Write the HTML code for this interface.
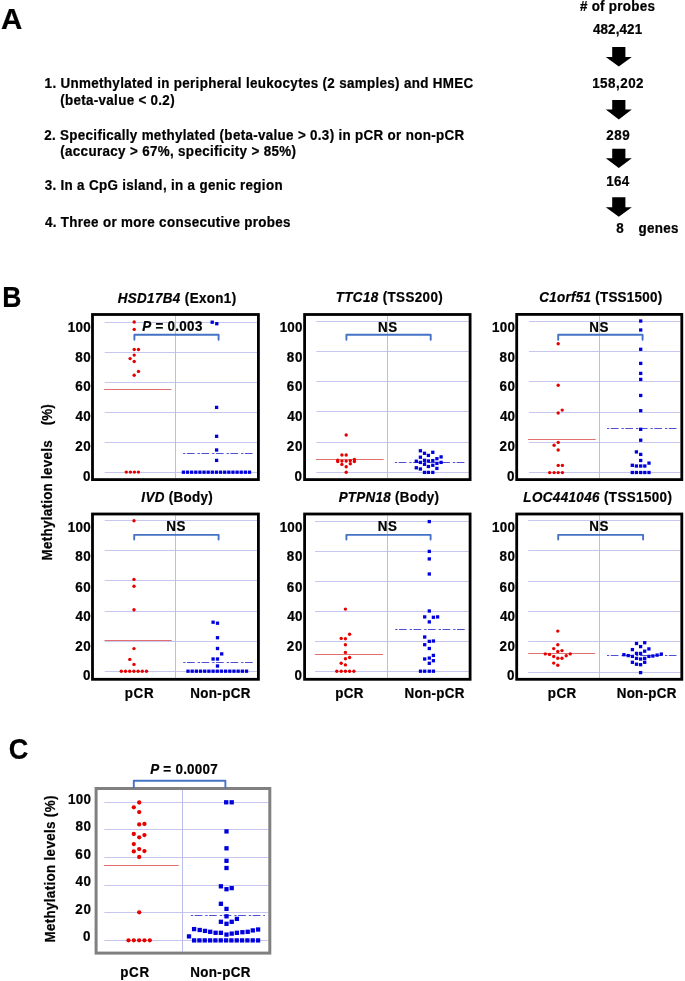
<!DOCTYPE html>
<html><head><meta charset="utf-8"><title>figure</title>
<style>
html,body{margin:0;padding:0;background:#fff;}
svg{display:block;will-change:transform;}
text{font-family:"Liberation Sans",sans-serif;font-weight:bold;fill:#000;stroke:#000;stroke-width:0.22px;}
</style></head><body>
<svg width="685" height="981" viewBox="0 0 685 981">
<polygon points="612.2,47.0 625.4,47.0 625.4,57.0 631.8,57.0 618.8,66.6 605.8,57.0 612.2,57.0" fill="#000"/>
<polygon points="612.2,99.9 625.4,99.9 625.4,109.6 631.8,109.6 618.8,119.5 605.8,109.6 612.2,109.6" fill="#000"/>
<polygon points="612.2,148.7 625.4,148.7 625.4,158.3 631.8,158.3 618.8,168.0 605.8,158.3 612.2,158.3" fill="#000"/>
<polygon points="612.2,197.2 625.4,197.2 625.4,207.2 631.8,207.2 618.8,216.8 605.8,207.2 612.2,207.2" fill="#000"/>
<line x1="104.7" y1="472.50" x2="256.99999999999994" y2="472.50" stroke="#c6c6ee" stroke-width="1.0"/>
<line x1="104.7" y1="442.50" x2="256.99999999999994" y2="442.50" stroke="#c6c6ee" stroke-width="1.0"/>
<line x1="104.7" y1="412.50" x2="256.99999999999994" y2="412.50" stroke="#c6c6ee" stroke-width="1.0"/>
<line x1="104.7" y1="382.50" x2="256.99999999999994" y2="382.50" stroke="#c6c6ee" stroke-width="1.0"/>
<line x1="104.7" y1="352.50" x2="256.99999999999994" y2="352.50" stroke="#c6c6ee" stroke-width="1.0"/>
<line x1="104.7" y1="322.50" x2="256.99999999999994" y2="322.50" stroke="#c6c6ee" stroke-width="1.0"/>
<line x1="175.5" y1="315.90000000000003" x2="175.5" y2="478.2" stroke="#bcbcea" stroke-width="1"/>
<line x1="104.1" y1="389.50" x2="171.5" y2="389.50" stroke="#e27070" stroke-width="1.0"/>
<line x1="183.1" y1="453.50" x2="253.2" y2="453.50" stroke="#5050d4" stroke-width="1.0" stroke-dasharray="2.3,1.5,7.7,3.0"/>
<circle cx="134.2" cy="322.0" r="1.7" fill="#e60000"/>
<circle cx="134.2" cy="329.4" r="1.7" fill="#e60000"/>
<circle cx="134.2" cy="349.5" r="1.7" fill="#e60000"/>
<circle cx="138.5" cy="349.5" r="1.7" fill="#e60000"/>
<circle cx="134.2" cy="355.1" r="1.7" fill="#e60000"/>
<circle cx="130.1" cy="358.6" r="1.7" fill="#e60000"/>
<circle cx="134.2" cy="361.5" r="1.7" fill="#e60000"/>
<circle cx="138.5" cy="371.4" r="1.7" fill="#e60000"/>
<circle cx="134.2" cy="375.3" r="1.7" fill="#e60000"/>
<circle cx="126.3" cy="472.1" r="1.7" fill="#e60000"/>
<circle cx="130.4" cy="472.1" r="1.7" fill="#e60000"/>
<circle cx="134.4" cy="472.1" r="1.7" fill="#e60000"/>
<circle cx="138.4" cy="472.1" r="1.7" fill="#e60000"/>
<rect x="210.55" y="320.55" width="3.3" height="3.3" fill="#0000dc"/>
<rect x="215.15" y="322.05" width="3.3" height="3.3" fill="#0000dc"/>
<rect x="214.95" y="405.75" width="3.3" height="3.3" fill="#0000dc"/>
<rect x="214.95" y="434.65" width="3.3" height="3.3" fill="#0000dc"/>
<rect x="214.95" y="448.35" width="3.3" height="3.3" fill="#0000dc"/>
<rect x="214.95" y="458.75" width="3.3" height="3.3" fill="#0000dc"/>
<rect x="181.75" y="470.55" width="3.3" height="3.3" fill="#0000dc"/>
<rect x="185.88" y="470.55" width="3.3" height="3.3" fill="#0000dc"/>
<rect x="190.01" y="470.55" width="3.3" height="3.3" fill="#0000dc"/>
<rect x="194.14" y="470.55" width="3.3" height="3.3" fill="#0000dc"/>
<rect x="198.27" y="470.55" width="3.3" height="3.3" fill="#0000dc"/>
<rect x="202.40" y="470.55" width="3.3" height="3.3" fill="#0000dc"/>
<rect x="206.53" y="470.55" width="3.3" height="3.3" fill="#0000dc"/>
<rect x="210.66" y="470.55" width="3.3" height="3.3" fill="#0000dc"/>
<rect x="214.79" y="470.55" width="3.3" height="3.3" fill="#0000dc"/>
<rect x="218.92" y="470.55" width="3.3" height="3.3" fill="#0000dc"/>
<rect x="223.05" y="470.55" width="3.3" height="3.3" fill="#0000dc"/>
<rect x="227.18" y="470.55" width="3.3" height="3.3" fill="#0000dc"/>
<rect x="231.31" y="470.55" width="3.3" height="3.3" fill="#0000dc"/>
<rect x="235.44" y="470.55" width="3.3" height="3.3" fill="#0000dc"/>
<rect x="239.57" y="470.55" width="3.3" height="3.3" fill="#0000dc"/>
<rect x="243.70" y="470.55" width="3.3" height="3.3" fill="#0000dc"/>
<rect x="247.83" y="470.55" width="3.3" height="3.3" fill="#0000dc"/>
<rect x="92.50" y="314.50" width="165.90" height="165.10" fill="none" stroke="#000" stroke-width="2.8"/>
<polyline points="134.4,339.8 134.4,334.7 218.6,334.7 218.6,339.8" fill="none" stroke="#4472c4" stroke-width="1.9" stroke-linecap="round" stroke-linejoin="round"/>
<line x1="316.4" y1="472.50" x2="468.7" y2="472.50" stroke="#c6c6ee" stroke-width="1.0"/>
<line x1="316.4" y1="442.50" x2="468.7" y2="442.50" stroke="#c6c6ee" stroke-width="1.0"/>
<line x1="316.4" y1="411.50" x2="468.7" y2="411.50" stroke="#c6c6ee" stroke-width="1.0"/>
<line x1="316.4" y1="381.50" x2="468.7" y2="381.50" stroke="#c6c6ee" stroke-width="1.0"/>
<line x1="316.4" y1="351.50" x2="468.7" y2="351.50" stroke="#c6c6ee" stroke-width="1.0"/>
<line x1="316.4" y1="321.50" x2="468.7" y2="321.50" stroke="#c6c6ee" stroke-width="1.0"/>
<line x1="387.5" y1="315.90000000000003" x2="387.5" y2="478.2" stroke="#bcbcea" stroke-width="1"/>
<line x1="316.1" y1="459.50" x2="383.6" y2="459.50" stroke="#e27070" stroke-width="1.0"/>
<line x1="394.9" y1="462.50" x2="465.4" y2="462.50" stroke="#5050d4" stroke-width="1.0" stroke-dasharray="2.3,1.5,7.7,3.0"/>
<circle cx="346.2" cy="435.0" r="1.7" fill="#e60000"/>
<circle cx="341.9" cy="455.0" r="1.7" fill="#e60000"/>
<circle cx="346.2" cy="455.0" r="1.7" fill="#e60000"/>
<circle cx="337.7" cy="460.1" r="1.7" fill="#e60000"/>
<circle cx="337.7" cy="461.5" r="1.7" fill="#e60000"/>
<circle cx="341.9" cy="461.1" r="1.7" fill="#e60000"/>
<circle cx="346.2" cy="461.1" r="1.7" fill="#e60000"/>
<circle cx="350.3" cy="460.6" r="1.7" fill="#e60000"/>
<circle cx="354.4" cy="459.5" r="1.7" fill="#e60000"/>
<circle cx="354.4" cy="461.5" r="1.7" fill="#e60000"/>
<circle cx="341.9" cy="464.4" r="1.7" fill="#e60000"/>
<circle cx="350.3" cy="463.8" r="1.7" fill="#e60000"/>
<circle cx="346.2" cy="466.7" r="1.7" fill="#e60000"/>
<circle cx="346.2" cy="472.2" r="1.7" fill="#e60000"/>
<rect x="418.75" y="449.15" width="3.3" height="3.3" fill="#0000dc"/>
<rect x="422.85" y="451.65" width="3.3" height="3.3" fill="#0000dc"/>
<rect x="426.75" y="453.75" width="3.3" height="3.3" fill="#0000dc"/>
<rect x="431.15" y="450.65" width="3.3" height="3.3" fill="#0000dc"/>
<rect x="418.75" y="455.55" width="3.3" height="3.3" fill="#0000dc"/>
<rect x="439.45" y="455.25" width="3.3" height="3.3" fill="#0000dc"/>
<rect x="435.25" y="457.05" width="3.3" height="3.3" fill="#0000dc"/>
<rect x="414.65" y="459.55" width="3.3" height="3.3" fill="#0000dc"/>
<rect x="418.75" y="460.75" width="3.3" height="3.3" fill="#0000dc"/>
<rect x="422.85" y="458.65" width="3.3" height="3.3" fill="#0000dc"/>
<rect x="426.75" y="459.35" width="3.3" height="3.3" fill="#0000dc"/>
<rect x="431.15" y="458.95" width="3.3" height="3.3" fill="#0000dc"/>
<rect x="435.25" y="461.75" width="3.3" height="3.3" fill="#0000dc"/>
<rect x="439.45" y="460.75" width="3.3" height="3.3" fill="#0000dc"/>
<rect x="422.85" y="462.65" width="3.3" height="3.3" fill="#0000dc"/>
<rect x="426.75" y="464.85" width="3.3" height="3.3" fill="#0000dc"/>
<rect x="431.15" y="463.65" width="3.3" height="3.3" fill="#0000dc"/>
<rect x="414.65" y="466.15" width="3.3" height="3.3" fill="#0000dc"/>
<rect x="418.75" y="467.35" width="3.3" height="3.3" fill="#0000dc"/>
<rect x="435.25" y="466.75" width="3.3" height="3.3" fill="#0000dc"/>
<rect x="422.85" y="470.75" width="3.3" height="3.3" fill="#0000dc"/>
<rect x="426.75" y="470.75" width="3.3" height="3.3" fill="#0000dc"/>
<rect x="431.15" y="470.75" width="3.3" height="3.3" fill="#0000dc"/>
<rect x="304.60" y="314.50" width="165.50" height="165.10" fill="none" stroke="#000" stroke-width="2.8"/>
<polyline points="346.4,339.8 346.4,334.7 430.7,334.7 430.7,339.8" fill="none" stroke="#4472c4" stroke-width="1.9" stroke-linecap="round" stroke-linejoin="round"/>
<line x1="528.9" y1="472.50" x2="680.4" y2="472.50" stroke="#c6c6ee" stroke-width="1.0"/>
<line x1="528.9" y1="442.50" x2="680.4" y2="442.50" stroke="#c6c6ee" stroke-width="1.0"/>
<line x1="528.9" y1="412.50" x2="680.4" y2="412.50" stroke="#c6c6ee" stroke-width="1.0"/>
<line x1="528.9" y1="381.50" x2="680.4" y2="381.50" stroke="#c6c6ee" stroke-width="1.0"/>
<line x1="528.9" y1="351.50" x2="680.4" y2="351.50" stroke="#c6c6ee" stroke-width="1.0"/>
<line x1="528.9" y1="321.50" x2="680.4" y2="321.50" stroke="#c6c6ee" stroke-width="1.0"/>
<line x1="599.5" y1="315.8" x2="599.5" y2="478.2" stroke="#bcbcea" stroke-width="1"/>
<line x1="528.0" y1="439.50" x2="595.7" y2="439.50" stroke="#e27070" stroke-width="1.0"/>
<line x1="607.0" y1="428.50" x2="677.3" y2="428.50" stroke="#5050d4" stroke-width="1.0" stroke-dasharray="2.3,1.5,7.7,3.0"/>
<circle cx="558.2" cy="343.8" r="1.7" fill="#e60000"/>
<circle cx="558.2" cy="385.3" r="1.7" fill="#e60000"/>
<circle cx="562.2" cy="410.1" r="1.7" fill="#e60000"/>
<circle cx="558.2" cy="413.0" r="1.7" fill="#e60000"/>
<circle cx="558.2" cy="442.4" r="1.7" fill="#e60000"/>
<circle cx="554.1" cy="445.3" r="1.7" fill="#e60000"/>
<circle cx="558.2" cy="450.0" r="1.7" fill="#e60000"/>
<circle cx="558.2" cy="465.4" r="1.7" fill="#e60000"/>
<circle cx="562.4" cy="465.4" r="1.7" fill="#e60000"/>
<circle cx="549.7" cy="472.6" r="1.7" fill="#e60000"/>
<circle cx="554.1" cy="472.6" r="1.7" fill="#e60000"/>
<circle cx="558.2" cy="472.6" r="1.7" fill="#e60000"/>
<circle cx="562.4" cy="472.6" r="1.7" fill="#e60000"/>
<rect x="639.05" y="319.35" width="3.3" height="3.3" fill="#0000dc"/>
<rect x="639.05" y="328.35" width="3.3" height="3.3" fill="#0000dc"/>
<rect x="639.05" y="347.65" width="3.3" height="3.3" fill="#0000dc"/>
<rect x="639.05" y="361.75" width="3.3" height="3.3" fill="#0000dc"/>
<rect x="639.05" y="371.75" width="3.3" height="3.3" fill="#0000dc"/>
<rect x="639.05" y="377.75" width="3.3" height="3.3" fill="#0000dc"/>
<rect x="639.05" y="393.85" width="3.3" height="3.3" fill="#0000dc"/>
<rect x="639.05" y="409.05" width="3.3" height="3.3" fill="#0000dc"/>
<rect x="639.05" y="427.65" width="3.3" height="3.3" fill="#0000dc"/>
<rect x="639.05" y="438.55" width="3.3" height="3.3" fill="#0000dc"/>
<rect x="634.75" y="450.25" width="3.3" height="3.3" fill="#0000dc"/>
<rect x="639.05" y="452.75" width="3.3" height="3.3" fill="#0000dc"/>
<rect x="639.05" y="458.85" width="3.3" height="3.3" fill="#0000dc"/>
<rect x="630.65" y="463.65" width="3.3" height="3.3" fill="#0000dc"/>
<rect x="634.75" y="464.35" width="3.3" height="3.3" fill="#0000dc"/>
<rect x="639.05" y="464.35" width="3.3" height="3.3" fill="#0000dc"/>
<rect x="643.15" y="464.35" width="3.3" height="3.3" fill="#0000dc"/>
<rect x="647.35" y="461.45" width="3.3" height="3.3" fill="#0000dc"/>
<rect x="630.65" y="470.85" width="3.3" height="3.3" fill="#0000dc"/>
<rect x="634.75" y="470.85" width="3.3" height="3.3" fill="#0000dc"/>
<rect x="639.05" y="470.85" width="3.3" height="3.3" fill="#0000dc"/>
<rect x="643.15" y="470.85" width="3.3" height="3.3" fill="#0000dc"/>
<rect x="647.35" y="470.85" width="3.3" height="3.3" fill="#0000dc"/>
<rect x="516.70" y="314.40" width="165.10" height="165.20" fill="none" stroke="#000" stroke-width="2.8"/>
<polyline points="558.2,339.8 558.2,334.7 642.6,334.7 642.6,339.8" fill="none" stroke="#4472c4" stroke-width="1.9" stroke-linecap="round" stroke-linejoin="round"/>
<line x1="104.7" y1="671.50" x2="256.99999999999994" y2="671.50" stroke="#c6c6ee" stroke-width="1.0"/>
<line x1="104.7" y1="641.50" x2="256.99999999999994" y2="641.50" stroke="#c6c6ee" stroke-width="1.0"/>
<line x1="104.7" y1="611.50" x2="256.99999999999994" y2="611.50" stroke="#c6c6ee" stroke-width="1.0"/>
<line x1="104.7" y1="580.50" x2="256.99999999999994" y2="580.50" stroke="#c6c6ee" stroke-width="1.0"/>
<line x1="104.7" y1="550.50" x2="256.99999999999994" y2="550.50" stroke="#c6c6ee" stroke-width="1.0"/>
<line x1="104.7" y1="520.50" x2="256.99999999999994" y2="520.50" stroke="#c6c6ee" stroke-width="1.0"/>
<line x1="175.5" y1="515.4" x2="175.5" y2="677.9000000000001" stroke="#bcbcea" stroke-width="1"/>
<line x1="104.5" y1="640.50" x2="171.7" y2="640.50" stroke="#e27070" stroke-width="1.0"/>
<line x1="183.2" y1="662.50" x2="254.5" y2="662.50" stroke="#5050d4" stroke-width="1.0" stroke-dasharray="2.3,1.5,7.7,3.0"/>
<circle cx="134.0" cy="520.8" r="1.7" fill="#e60000"/>
<circle cx="134.0" cy="579.4" r="1.7" fill="#e60000"/>
<circle cx="134.0" cy="586.2" r="1.7" fill="#e60000"/>
<circle cx="134.0" cy="609.7" r="1.7" fill="#e60000"/>
<circle cx="134.0" cy="648.6" r="1.7" fill="#e60000"/>
<circle cx="129.8" cy="659.4" r="1.7" fill="#e60000"/>
<circle cx="134.0" cy="664.4" r="1.7" fill="#e60000"/>
<circle cx="121.3" cy="671.2" r="1.7" fill="#e60000"/>
<circle cx="125.5" cy="671.2" r="1.7" fill="#e60000"/>
<circle cx="129.7" cy="671.2" r="1.7" fill="#e60000"/>
<circle cx="133.9" cy="671.2" r="1.7" fill="#e60000"/>
<circle cx="138.1" cy="671.2" r="1.7" fill="#e60000"/>
<circle cx="142.3" cy="671.2" r="1.7" fill="#e60000"/>
<circle cx="146.5" cy="671.2" r="1.7" fill="#e60000"/>
<rect x="211.45" y="620.55" width="3.3" height="3.3" fill="#0000dc"/>
<rect x="215.85" y="621.55" width="3.3" height="3.3" fill="#0000dc"/>
<rect x="215.85" y="636.05" width="3.3" height="3.3" fill="#0000dc"/>
<rect x="215.85" y="646.85" width="3.3" height="3.3" fill="#0000dc"/>
<rect x="220.05" y="652.25" width="3.3" height="3.3" fill="#0000dc"/>
<rect x="211.45" y="657.35" width="3.3" height="3.3" fill="#0000dc"/>
<rect x="215.85" y="657.35" width="3.3" height="3.3" fill="#0000dc"/>
<rect x="215.85" y="664.35" width="3.3" height="3.3" fill="#0000dc"/>
<rect x="186.35" y="669.55" width="3.3" height="3.3" fill="#0000dc"/>
<rect x="190.53" y="669.55" width="3.3" height="3.3" fill="#0000dc"/>
<rect x="194.71" y="669.55" width="3.3" height="3.3" fill="#0000dc"/>
<rect x="198.89" y="669.55" width="3.3" height="3.3" fill="#0000dc"/>
<rect x="203.07" y="669.55" width="3.3" height="3.3" fill="#0000dc"/>
<rect x="207.25" y="669.55" width="3.3" height="3.3" fill="#0000dc"/>
<rect x="211.43" y="669.55" width="3.3" height="3.3" fill="#0000dc"/>
<rect x="215.61" y="669.55" width="3.3" height="3.3" fill="#0000dc"/>
<rect x="219.79" y="669.55" width="3.3" height="3.3" fill="#0000dc"/>
<rect x="223.97" y="669.55" width="3.3" height="3.3" fill="#0000dc"/>
<rect x="228.15" y="669.55" width="3.3" height="3.3" fill="#0000dc"/>
<rect x="232.33" y="669.55" width="3.3" height="3.3" fill="#0000dc"/>
<rect x="236.51" y="669.55" width="3.3" height="3.3" fill="#0000dc"/>
<rect x="240.69" y="669.55" width="3.3" height="3.3" fill="#0000dc"/>
<rect x="244.87" y="669.55" width="3.3" height="3.3" fill="#0000dc"/>
<rect x="92.50" y="514.00" width="165.90" height="165.30" fill="none" stroke="#000" stroke-width="2.8"/>
<polyline points="134.2,539.6 134.2,534.85 218.6,534.85 218.6,539.6" fill="none" stroke="#4472c4" stroke-width="1.9" stroke-linecap="round" stroke-linejoin="round"/>
<line x1="315.1" y1="671.50" x2="468.7" y2="671.50" stroke="#c6c6ee" stroke-width="1.0"/>
<line x1="315.1" y1="641.50" x2="468.7" y2="641.50" stroke="#c6c6ee" stroke-width="1.0"/>
<line x1="315.1" y1="611.50" x2="468.7" y2="611.50" stroke="#c6c6ee" stroke-width="1.0"/>
<line x1="315.1" y1="581.50" x2="468.7" y2="581.50" stroke="#c6c6ee" stroke-width="1.0"/>
<line x1="315.1" y1="551.50" x2="468.7" y2="551.50" stroke="#c6c6ee" stroke-width="1.0"/>
<line x1="315.1" y1="521.50" x2="468.7" y2="521.50" stroke="#c6c6ee" stroke-width="1.0"/>
<line x1="387.5" y1="515.4" x2="387.5" y2="677.9000000000001" stroke="#bcbcea" stroke-width="1"/>
<line x1="314.9" y1="654.50" x2="383.1" y2="654.50" stroke="#e27070" stroke-width="1.0"/>
<line x1="395.2" y1="629.50" x2="466.1" y2="629.50" stroke="#5050d4" stroke-width="1.0" stroke-dasharray="2.3,1.5,7.7,3.0"/>
<circle cx="345.4" cy="609.1" r="1.7" fill="#e60000"/>
<circle cx="349.6" cy="634.2" r="1.7" fill="#e60000"/>
<circle cx="341.2" cy="638.4" r="1.7" fill="#e60000"/>
<circle cx="345.4" cy="638.8" r="1.7" fill="#e60000"/>
<circle cx="345.4" cy="644.7" r="1.7" fill="#e60000"/>
<circle cx="345.4" cy="652.4" r="1.7" fill="#e60000"/>
<circle cx="345.4" cy="658.7" r="1.7" fill="#e60000"/>
<circle cx="349.6" cy="657.5" r="1.7" fill="#e60000"/>
<circle cx="341.2" cy="663.3" r="1.7" fill="#e60000"/>
<circle cx="345.4" cy="664.9" r="1.7" fill="#e60000"/>
<circle cx="336.8" cy="671.2" r="1.7" fill="#e60000"/>
<circle cx="341.2" cy="671.2" r="1.7" fill="#e60000"/>
<circle cx="345.4" cy="671.2" r="1.7" fill="#e60000"/>
<circle cx="349.6" cy="671.2" r="1.7" fill="#e60000"/>
<circle cx="353.9" cy="671.2" r="1.7" fill="#e60000"/>
<rect x="427.65" y="519.95" width="3.3" height="3.3" fill="#0000dc"/>
<rect x="427.65" y="549.75" width="3.3" height="3.3" fill="#0000dc"/>
<rect x="427.65" y="557.25" width="3.3" height="3.3" fill="#0000dc"/>
<rect x="427.65" y="572.35" width="3.3" height="3.3" fill="#0000dc"/>
<rect x="427.65" y="609.35" width="3.3" height="3.3" fill="#0000dc"/>
<rect x="423.05" y="615.25" width="3.3" height="3.3" fill="#0000dc"/>
<rect x="431.75" y="615.65" width="3.3" height="3.3" fill="#0000dc"/>
<rect x="435.95" y="615.25" width="3.3" height="3.3" fill="#0000dc"/>
<rect x="427.65" y="620.25" width="3.3" height="3.3" fill="#0000dc"/>
<rect x="423.05" y="635.35" width="3.3" height="3.3" fill="#0000dc"/>
<rect x="427.65" y="639.75" width="3.3" height="3.3" fill="#0000dc"/>
<rect x="431.75" y="639.35" width="3.3" height="3.3" fill="#0000dc"/>
<rect x="423.05" y="643.05" width="3.3" height="3.3" fill="#0000dc"/>
<rect x="427.65" y="646.85" width="3.3" height="3.3" fill="#0000dc"/>
<rect x="431.75" y="653.75" width="3.3" height="3.3" fill="#0000dc"/>
<rect x="423.05" y="657.35" width="3.3" height="3.3" fill="#0000dc"/>
<rect x="427.65" y="656.45" width="3.3" height="3.3" fill="#0000dc"/>
<rect x="431.75" y="659.05" width="3.3" height="3.3" fill="#0000dc"/>
<rect x="427.65" y="661.65" width="3.3" height="3.3" fill="#0000dc"/>
<rect x="418.85" y="669.55" width="3.3" height="3.3" fill="#0000dc"/>
<rect x="423.05" y="669.55" width="3.3" height="3.3" fill="#0000dc"/>
<rect x="427.65" y="669.55" width="3.3" height="3.3" fill="#0000dc"/>
<rect x="431.75" y="669.55" width="3.3" height="3.3" fill="#0000dc"/>
<rect x="304.60" y="514.00" width="165.50" height="165.30" fill="none" stroke="#000" stroke-width="2.8"/>
<polyline points="346.4,539.6 346.4,534.85 430.6,534.85 430.6,539.6" fill="none" stroke="#4472c4" stroke-width="1.9" stroke-linecap="round" stroke-linejoin="round"/>
<line x1="528.2" y1="672.50" x2="680.4" y2="672.50" stroke="#c6c6ee" stroke-width="1.0"/>
<line x1="528.2" y1="641.50" x2="680.4" y2="641.50" stroke="#c6c6ee" stroke-width="1.0"/>
<line x1="528.2" y1="611.50" x2="680.4" y2="611.50" stroke="#c6c6ee" stroke-width="1.0"/>
<line x1="528.2" y1="581.50" x2="680.4" y2="581.50" stroke="#c6c6ee" stroke-width="1.0"/>
<line x1="528.2" y1="550.50" x2="680.4" y2="550.50" stroke="#c6c6ee" stroke-width="1.0"/>
<line x1="528.2" y1="520.50" x2="680.4" y2="520.50" stroke="#c6c6ee" stroke-width="1.0"/>
<line x1="599.5" y1="515.4" x2="599.5" y2="677.9000000000001" stroke="#bcbcea" stroke-width="1"/>
<line x1="528.2" y1="653.50" x2="595.2" y2="653.50" stroke="#e27070" stroke-width="1.0"/>
<line x1="607.0" y1="655.50" x2="677.2" y2="655.50" stroke="#5050d4" stroke-width="1.0" stroke-dasharray="2.3,1.5,7.7,3.0"/>
<circle cx="557.8" cy="631.1" r="1.7" fill="#e60000"/>
<circle cx="557.8" cy="644.7" r="1.7" fill="#e60000"/>
<circle cx="553.7" cy="648.6" r="1.7" fill="#e60000"/>
<circle cx="562.0" cy="650.6" r="1.7" fill="#e60000"/>
<circle cx="557.8" cy="651.5" r="1.7" fill="#e60000"/>
<circle cx="545.3" cy="653.9" r="1.7" fill="#e60000"/>
<circle cx="549.5" cy="654.4" r="1.7" fill="#e60000"/>
<circle cx="570.2" cy="653.9" r="1.7" fill="#e60000"/>
<circle cx="553.7" cy="656.5" r="1.7" fill="#e60000"/>
<circle cx="557.8" cy="658.3" r="1.7" fill="#e60000"/>
<circle cx="562.0" cy="658.3" r="1.7" fill="#e60000"/>
<circle cx="566.2" cy="655.8" r="1.7" fill="#e60000"/>
<circle cx="553.7" cy="663.1" r="1.7" fill="#e60000"/>
<circle cx="557.8" cy="665.3" r="1.7" fill="#e60000"/>
<rect x="634.85" y="641.85" width="3.3" height="3.3" fill="#0000dc"/>
<rect x="643.05" y="641.05" width="3.3" height="3.3" fill="#0000dc"/>
<rect x="638.95" y="644.95" width="3.3" height="3.3" fill="#0000dc"/>
<rect x="630.75" y="647.95" width="3.3" height="3.3" fill="#0000dc"/>
<rect x="647.25" y="647.25" width="3.3" height="3.3" fill="#0000dc"/>
<rect x="643.05" y="649.55" width="3.3" height="3.3" fill="#0000dc"/>
<rect x="634.85" y="651.75" width="3.3" height="3.3" fill="#0000dc"/>
<rect x="638.95" y="651.75" width="3.3" height="3.3" fill="#0000dc"/>
<rect x="622.25" y="653.05" width="3.3" height="3.3" fill="#0000dc"/>
<rect x="626.55" y="653.95" width="3.3" height="3.3" fill="#0000dc"/>
<rect x="630.75" y="654.75" width="3.3" height="3.3" fill="#0000dc"/>
<rect x="659.65" y="652.45" width="3.3" height="3.3" fill="#0000dc"/>
<rect x="655.45" y="653.45" width="3.3" height="3.3" fill="#0000dc"/>
<rect x="651.25" y="654.35" width="3.3" height="3.3" fill="#0000dc"/>
<rect x="647.25" y="654.75" width="3.3" height="3.3" fill="#0000dc"/>
<rect x="634.85" y="656.75" width="3.3" height="3.3" fill="#0000dc"/>
<rect x="638.95" y="657.35" width="3.3" height="3.3" fill="#0000dc"/>
<rect x="643.05" y="656.75" width="3.3" height="3.3" fill="#0000dc"/>
<rect x="630.75" y="660.65" width="3.3" height="3.3" fill="#0000dc"/>
<rect x="634.85" y="662.55" width="3.3" height="3.3" fill="#0000dc"/>
<rect x="638.95" y="663.05" width="3.3" height="3.3" fill="#0000dc"/>
<rect x="643.05" y="660.65" width="3.3" height="3.3" fill="#0000dc"/>
<rect x="638.95" y="670.95" width="3.3" height="3.3" fill="#0000dc"/>
<rect x="516.70" y="514.00" width="165.10" height="165.30" fill="none" stroke="#000" stroke-width="2.8"/>
<polyline points="558.2,539.6 558.2,534.85 643.1,534.85 643.1,539.6" fill="none" stroke="#4472c4" stroke-width="1.9" stroke-linecap="round" stroke-linejoin="round"/>
<line x1="104.3" y1="940.50" x2="268.29999999999995" y2="940.50" stroke="#c6c6ee" stroke-width="1.0"/>
<line x1="104.3" y1="912.50" x2="268.29999999999995" y2="912.50" stroke="#c6c6ee" stroke-width="1.0"/>
<line x1="104.3" y1="885.50" x2="268.29999999999995" y2="885.50" stroke="#c6c6ee" stroke-width="1.0"/>
<line x1="104.3" y1="857.50" x2="268.29999999999995" y2="857.50" stroke="#c6c6ee" stroke-width="1.0"/>
<line x1="104.3" y1="829.50" x2="268.29999999999995" y2="829.50" stroke="#c6c6ee" stroke-width="1.0"/>
<line x1="104.3" y1="802.50" x2="268.29999999999995" y2="802.50" stroke="#c6c6ee" stroke-width="1.0"/>
<line x1="182.5" y1="790.0" x2="182.5" y2="951.6" stroke="#bcbcea" stroke-width="1"/>
<line x1="103.9" y1="865.50" x2="178.7" y2="865.50" stroke="#e27070" stroke-width="1.0"/>
<line x1="190.8" y1="915.50" x2="264.9" y2="915.50" stroke="#5050d4" stroke-width="1.0" stroke-dasharray="2.3,1.5,7.7,3.0"/>
<circle cx="139.2" cy="802.5" r="2.15" fill="#e60000"/>
<circle cx="133.8" cy="807.3" r="2.15" fill="#e60000"/>
<circle cx="139.2" cy="812.1" r="2.15" fill="#e60000"/>
<circle cx="139.2" cy="824.4" r="2.15" fill="#e60000"/>
<circle cx="144.4" cy="823.9" r="2.15" fill="#e60000"/>
<circle cx="133.8" cy="834.0" r="2.15" fill="#e60000"/>
<circle cx="139.2" cy="837.3" r="2.15" fill="#e60000"/>
<circle cx="144.4" cy="835.1" r="2.15" fill="#e60000"/>
<circle cx="133.8" cy="844.1" r="2.15" fill="#e60000"/>
<circle cx="139.2" cy="849.1" r="2.15" fill="#e60000"/>
<circle cx="133.8" cy="851.4" r="2.15" fill="#e60000"/>
<circle cx="144.4" cy="851.1" r="2.15" fill="#e60000"/>
<circle cx="139.2" cy="857.0" r="2.15" fill="#e60000"/>
<circle cx="139.2" cy="912.3" r="2.15" fill="#e60000"/>
<circle cx="128.5" cy="940.3" r="2.15" fill="#e60000"/>
<circle cx="133.82" cy="940.3" r="2.15" fill="#e60000"/>
<circle cx="139.14" cy="940.3" r="2.15" fill="#e60000"/>
<circle cx="144.46" cy="940.3" r="2.15" fill="#e60000"/>
<circle cx="149.78" cy="940.3" r="2.15" fill="#e60000"/>
<rect x="224.05" y="800.15" width="4.3" height="4.3" fill="#0000dc"/>
<rect x="229.55" y="800.15" width="4.3" height="4.3" fill="#0000dc"/>
<rect x="224.35" y="829.25" width="4.3" height="4.3" fill="#0000dc"/>
<rect x="224.35" y="846.15" width="4.3" height="4.3" fill="#0000dc"/>
<rect x="224.35" y="858.65" width="4.3" height="4.3" fill="#0000dc"/>
<rect x="224.35" y="865.85" width="4.3" height="4.3" fill="#0000dc"/>
<rect x="218.75" y="884.15" width="4.3" height="4.3" fill="#0000dc"/>
<rect x="224.35" y="887.05" width="4.3" height="4.3" fill="#0000dc"/>
<rect x="229.55" y="885.95" width="4.3" height="4.3" fill="#0000dc"/>
<rect x="218.75" y="901.65" width="4.3" height="4.3" fill="#0000dc"/>
<rect x="224.35" y="906.75" width="4.3" height="4.3" fill="#0000dc"/>
<rect x="224.35" y="914.15" width="4.3" height="4.3" fill="#0000dc"/>
<rect x="218.75" y="919.65" width="4.3" height="4.3" fill="#0000dc"/>
<rect x="224.35" y="921.65" width="4.3" height="4.3" fill="#0000dc"/>
<rect x="229.55" y="919.65" width="4.3" height="4.3" fill="#0000dc"/>
<rect x="234.75" y="916.75" width="4.3" height="4.3" fill="#0000dc"/>
<rect x="191.95" y="926.95" width="4.3" height="4.3" fill="#0000dc"/>
<rect x="197.55" y="927.85" width="4.3" height="4.3" fill="#0000dc"/>
<rect x="202.85" y="928.75" width="4.3" height="4.3" fill="#0000dc"/>
<rect x="208.05" y="929.65" width="4.3" height="4.3" fill="#0000dc"/>
<rect x="213.45" y="930.65" width="4.3" height="4.3" fill="#0000dc"/>
<rect x="218.75" y="930.65" width="4.3" height="4.3" fill="#0000dc"/>
<rect x="224.35" y="932.45" width="4.3" height="4.3" fill="#0000dc"/>
<rect x="229.55" y="931.45" width="4.3" height="4.3" fill="#0000dc"/>
<rect x="234.75" y="930.65" width="4.3" height="4.3" fill="#0000dc"/>
<rect x="240.25" y="930.05" width="4.3" height="4.3" fill="#0000dc"/>
<rect x="245.55" y="929.65" width="4.3" height="4.3" fill="#0000dc"/>
<rect x="250.65" y="928.25" width="4.3" height="4.3" fill="#0000dc"/>
<rect x="255.95" y="927.35" width="4.3" height="4.3" fill="#0000dc"/>
<rect x="186.85" y="934.25" width="4.3" height="4.3" fill="#0000dc"/>
<rect x="191.95" y="938.25" width="4.3" height="4.3" fill="#0000dc"/>
<rect x="197.28" y="938.25" width="4.3" height="4.3" fill="#0000dc"/>
<rect x="202.61" y="938.25" width="4.3" height="4.3" fill="#0000dc"/>
<rect x="207.94" y="938.25" width="4.3" height="4.3" fill="#0000dc"/>
<rect x="213.27" y="938.25" width="4.3" height="4.3" fill="#0000dc"/>
<rect x="218.60" y="938.25" width="4.3" height="4.3" fill="#0000dc"/>
<rect x="223.93" y="938.25" width="4.3" height="4.3" fill="#0000dc"/>
<rect x="229.26" y="938.25" width="4.3" height="4.3" fill="#0000dc"/>
<rect x="234.59" y="938.25" width="4.3" height="4.3" fill="#0000dc"/>
<rect x="239.92" y="938.25" width="4.3" height="4.3" fill="#0000dc"/>
<rect x="245.25" y="938.25" width="4.3" height="4.3" fill="#0000dc"/>
<rect x="250.58" y="938.25" width="4.3" height="4.3" fill="#0000dc"/>
<rect x="255.91" y="938.25" width="4.3" height="4.3" fill="#0000dc"/>
<rect x="96.10" y="788.50" width="173.70" height="164.60" fill="none" stroke="#808080" stroke-width="3.0"/>
<polyline points="133.8,787.5 133.8,780.8 225.4,780.8 225.4,787.5" fill="none" stroke="#4472c4" stroke-width="1.9" stroke-linecap="round" stroke-linejoin="round"/>
<text transform="translate(0.97,28.7)" font-size="29.5">A</text>
<text transform="translate(2.30,306.6) scale(0.93,1.03)" font-size="28.5">B</text>
<text transform="translate(8.85,759.0) scale(0.905,1.0)" font-size="30">C</text>
<text transform="translate(44.62,88.1) scale(1.0,1.05)" font-size="13.4" textLength="428.66" lengthAdjust="spacing">1. Unmethylated in peripheral leukocytes (2 samples) and HMEC</text>
<text transform="translate(60.24,104.6) scale(1.0,1.05)" font-size="13.4" textLength="114.37" lengthAdjust="spacing">(beta-value &lt; 0.2)</text>
<text transform="translate(44.23,139.8) scale(1.0,1.05)" font-size="13.4" textLength="419.88" lengthAdjust="spacing">2. Specifically methylated (beta-value &gt; 0.3) in pCR or non-pCR</text>
<text transform="translate(60.22,156.1) scale(1.0,1.05)" font-size="13.4" textLength="235.72" lengthAdjust="spacing">(accuracy &gt; 67%, specificity &gt; 85%)</text>
<text transform="translate(44.68,189.6) scale(1.0,1.05)" font-size="13.4" textLength="237.92" lengthAdjust="spacing">3. In a CpG island, in a genic region</text>
<text transform="translate(44.92,227.0) scale(1.0,1.05)" font-size="13.4" textLength="245.58" lengthAdjust="spacing">4. Three or more consecutive probes</text>
<text transform="translate(579.91,10.6) scale(1.0,1.04)" font-size="13.4" textLength="75.06" lengthAdjust="spacing"># of probes</text>
<text transform="translate(592.95,33.7) scale(1.0,1.06)" font-size="13.4" textLength="49.22" lengthAdjust="spacing">482,421</text>
<text transform="translate(592.15,88.2) scale(1.0,1.06)" font-size="13.4" textLength="51.43" lengthAdjust="spacing">158,202</text>
<text transform="translate(606.33,140.0) scale(1.0,1.06)" font-size="13.4" textLength="23.46" lengthAdjust="spacing">289</text>
<text transform="translate(606.15,186.0) scale(1.0,1.06)" font-size="13.4" textLength="23.07" lengthAdjust="spacing">164</text>
<text transform="translate(616.24,232.9) scale(1.0,1.06)" font-size="13.4">8</text>
<text transform="translate(638.55,232.9) scale(1.0,1.06)" font-size="13.4" textLength="40.01" lengthAdjust="spacing">genes</text>
<text transform="translate(117.70,302.5) scale(1.0,1.08)" font-size="13.4" textLength="118.49" lengthAdjust="spacing"><tspan font-style="italic">HSD17B4</tspan> (Exon1)</text>
<text transform="translate(335.71,302.4) scale(1.0,1.08)" font-size="13.4" textLength="107.01" lengthAdjust="spacing"><tspan font-style="italic">TTC18</tspan> (TSS200)</text>
<text transform="translate(539.25,302.4) scale(1.0,1.08)" font-size="13.4" textLength="123.05" lengthAdjust="spacing"><tspan font-style="italic">C1orf51</tspan> (TSS1500)</text>
<text transform="translate(141.34,502.3) scale(1.0,1.08)" font-size="13.4" textLength="71.37" lengthAdjust="spacing"><tspan font-style="italic">IVD</tspan> (Body)</text>
<text transform="translate(338.64,502.3) scale(1.0,1.08)" font-size="13.4" textLength="100.37" lengthAdjust="spacing"><tspan font-style="italic">PTPN18</tspan> (Body)</text>
<text transform="translate(523.37,502.3) scale(1.0,1.08)" font-size="13.4" textLength="148.56" lengthAdjust="spacing"><tspan font-style="italic">LOC441046</tspan> (TSS1500)</text>
<text transform="translate(142.22,331.4) scale(1.0,1.08)" font-size="13.4" textLength="60.13" lengthAdjust="spacing"><tspan font-style="italic">P</tspan> = 0.003</text>
<text transform="translate(377.96,331.8) scale(1.0,1.08)" font-size="13.4" textLength="19.23" lengthAdjust="spacing">NS</text>
<text transform="translate(589.23,331.8) scale(1.0,1.08)" font-size="13.4" textLength="19.25" lengthAdjust="spacing">NS</text>
<text transform="translate(166.28,531.4) scale(1.0,1.08)" font-size="13.4" textLength="19.19" lengthAdjust="spacing">NS</text>
<text transform="translate(377.80,531.4) scale(1.0,1.08)" font-size="13.4" textLength="19.10" lengthAdjust="spacing">NS</text>
<text transform="translate(589.23,531.4) scale(1.0,1.08)" font-size="13.4" textLength="19.25" lengthAdjust="spacing">NS</text>
<text transform="translate(150.22,774.1) scale(1.0,1.08)" font-size="13.4" textLength="67.48" lengthAdjust="spacing"><tspan font-style="italic">P</tspan> = 0.0007</text>
<text transform="translate(67.76,332.0) scale(1.0,1.08)" font-size="13.4" textLength="23.00" lengthAdjust="spacing">100</text>
<text transform="translate(75.17,362.0) scale(1.0,1.08)" font-size="13.4" textLength="15.59" lengthAdjust="spacing">80</text>
<text transform="translate(75.34,391.0) scale(1.0,1.08)" font-size="13.4" textLength="15.42" lengthAdjust="spacing">60</text>
<text transform="translate(75.55,421.0) scale(1.0,1.08)" font-size="13.4" textLength="15.21" lengthAdjust="spacing">40</text>
<text transform="translate(75.30,451.0) scale(1.0,1.08)" font-size="13.4" textLength="15.46" lengthAdjust="spacing">20</text>
<text transform="translate(82.98,481.0) scale(1.0,1.08)" font-size="13.4">0</text>
<text transform="translate(67.76,532.0) scale(1.0,1.08)" font-size="13.4" textLength="23.00" lengthAdjust="spacing">100</text>
<text transform="translate(75.17,561.0) scale(1.0,1.08)" font-size="13.4" textLength="15.59" lengthAdjust="spacing">80</text>
<text transform="translate(75.34,592.0) scale(1.0,1.08)" font-size="13.4" textLength="15.42" lengthAdjust="spacing">60</text>
<text transform="translate(75.55,621.0) scale(1.0,1.08)" font-size="13.4" textLength="15.21" lengthAdjust="spacing">40</text>
<text transform="translate(75.30,651.0) scale(1.0,1.08)" font-size="13.4" textLength="15.46" lengthAdjust="spacing">20</text>
<text transform="translate(82.98,680.0) scale(1.0,1.08)" font-size="13.4">0</text>
<text transform="translate(279.63,332.0) scale(1.0,1.08)" font-size="13.4" textLength="22.77" lengthAdjust="spacing">100</text>
<text transform="translate(286.87,362.0) scale(1.0,1.08)" font-size="13.4" textLength="15.52" lengthAdjust="spacing">80</text>
<text transform="translate(286.78,391.0) scale(1.0,1.08)" font-size="13.4" textLength="15.61" lengthAdjust="spacing">60</text>
<text transform="translate(287.16,421.0) scale(1.0,1.08)" font-size="13.4" textLength="15.24" lengthAdjust="spacing">40</text>
<text transform="translate(286.82,451.0) scale(1.0,1.08)" font-size="13.4" textLength="15.58" lengthAdjust="spacing">20</text>
<text transform="translate(294.47,481.0) scale(1.0,1.08)" font-size="13.4">0</text>
<text transform="translate(279.63,532.0) scale(1.0,1.08)" font-size="13.4" textLength="22.77" lengthAdjust="spacing">100</text>
<text transform="translate(286.87,561.0) scale(1.0,1.08)" font-size="13.4" textLength="15.52" lengthAdjust="spacing">80</text>
<text transform="translate(286.78,592.0) scale(1.0,1.08)" font-size="13.4" textLength="15.61" lengthAdjust="spacing">60</text>
<text transform="translate(287.16,621.0) scale(1.0,1.08)" font-size="13.4" textLength="15.24" lengthAdjust="spacing">40</text>
<text transform="translate(286.82,651.0) scale(1.0,1.08)" font-size="13.4" textLength="15.58" lengthAdjust="spacing">20</text>
<text transform="translate(294.47,680.0) scale(1.0,1.08)" font-size="13.4">0</text>
<text transform="translate(492.11,332.0) scale(1.0,1.08)" font-size="13.4" textLength="22.97" lengthAdjust="spacing">100</text>
<text transform="translate(499.49,362.0) scale(1.0,1.08)" font-size="13.4" textLength="15.59" lengthAdjust="spacing">80</text>
<text transform="translate(499.53,391.0) scale(1.0,1.08)" font-size="13.4" textLength="15.55" lengthAdjust="spacing">60</text>
<text transform="translate(499.96,421.0) scale(1.0,1.08)" font-size="13.4" textLength="15.12" lengthAdjust="spacing">40</text>
<text transform="translate(499.62,451.0) scale(1.0,1.08)" font-size="13.4" textLength="15.46" lengthAdjust="spacing">20</text>
<text transform="translate(507.10,481.0) scale(1.0,1.08)" font-size="13.4">0</text>
<text transform="translate(492.11,532.0) scale(1.0,1.08)" font-size="13.4" textLength="22.97" lengthAdjust="spacing">100</text>
<text transform="translate(499.49,561.0) scale(1.0,1.08)" font-size="13.4" textLength="15.59" lengthAdjust="spacing">80</text>
<text transform="translate(499.53,592.0) scale(1.0,1.08)" font-size="13.4" textLength="15.55" lengthAdjust="spacing">60</text>
<text transform="translate(499.96,621.0) scale(1.0,1.08)" font-size="13.4" textLength="15.12" lengthAdjust="spacing">40</text>
<text transform="translate(499.62,651.0) scale(1.0,1.08)" font-size="13.4" textLength="15.46" lengthAdjust="spacing">20</text>
<text transform="translate(507.10,680.0) scale(1.0,1.08)" font-size="13.4">0</text>
<text transform="translate(67.95,804.0) scale(1.0,1.08)" font-size="13.4" textLength="23.03" lengthAdjust="spacing">100</text>
<text transform="translate(75.38,831.0) scale(1.0,1.08)" font-size="13.4" textLength="15.61" lengthAdjust="spacing">80</text>
<text transform="translate(75.23,859.0) scale(1.0,1.08)" font-size="13.4" textLength="15.75" lengthAdjust="spacing">60</text>
<text transform="translate(75.46,886.0) scale(1.0,1.08)" font-size="13.4" textLength="15.52" lengthAdjust="spacing">40</text>
<text transform="translate(75.23,914.0) scale(1.0,1.08)" font-size="13.4" textLength="15.76" lengthAdjust="spacing">20</text>
<text transform="translate(83.03,941.0) scale(1.0,1.08)" font-size="13.4">0</text>
<text transform="translate(124.73,698.2) scale(1.0,1.08)" font-size="13.4" textLength="28.94" lengthAdjust="spacing">pCR</text>
<text transform="translate(190.23,698.2) scale(1.0,1.08)" font-size="13.4" textLength="60.17" lengthAdjust="spacing">Non-pCR</text>
<text transform="translate(335.25,698.2) scale(1.0,1.08)" font-size="13.4" textLength="28.18" lengthAdjust="spacing">pCR</text>
<text transform="translate(404.45,698.2) scale(1.0,1.08)" font-size="13.4" textLength="59.94" lengthAdjust="spacing">Non-pCR</text>
<text transform="translate(547.73,698.2) scale(1.0,1.08)" font-size="13.4" textLength="28.49" lengthAdjust="spacing">pCR</text>
<text transform="translate(616.68,698.2) scale(1.0,1.08)" font-size="13.4" textLength="59.72" lengthAdjust="spacing">Non-pCR</text>
<text transform="translate(120.25,976.7) scale(1.0,1.08)" font-size="13.4" textLength="28.83" lengthAdjust="spacing">pCR</text>
<text transform="translate(190.23,976.7) scale(1.0,1.08)" font-size="13.4" textLength="60.17" lengthAdjust="spacing">Non-pCR</text>
<text transform="translate(51.8,560.54) rotate(-90) scale(1.0,1.08)" font-size="13.4" textLength="120.38" lengthAdjust="spacing">Methylation levels</text>
<text transform="translate(51.8,425.33) rotate(-90) scale(1.0,1.08)" font-size="13.4" textLength="21.10" lengthAdjust="spacing">(%)</text>
<text transform="translate(54.6,942.54) rotate(-90) scale(1.0,1.08)" font-size="13.4" textLength="146.93" lengthAdjust="spacing">Methylation levels (%)</text>
</svg>
</body></html>
